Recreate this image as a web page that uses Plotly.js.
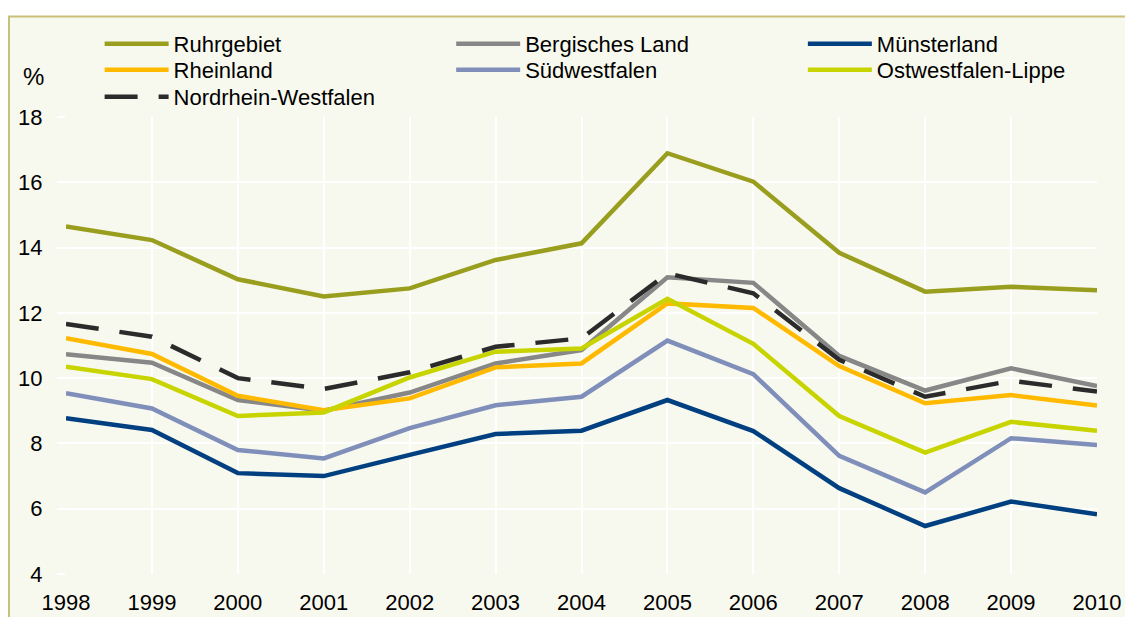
<!DOCTYPE html>
<html>
<head>
<meta charset="utf-8">
<script src="https://cdn.plot.ly/plotly-3.0.1.min.js"></script>
<style>
  html, body { margin: 0; padding: 0; background: #ffffff; }
  #chart { width: 1125px; height: 617px; }
</style>
</head>
<body>
<div id="chart"></div>
<script>
const years = [1998, 1999, 2000, 2001, 2002, 2003, 2004, 2005, 2006, 2007, 2008, 2009, 2010];

const ruhrgebiet      = [14.65, 14.23, 13.03, 12.50, 12.75, 13.62, 14.13, 16.89, 16.02, 13.84, 12.65, 12.80, 12.69];
const bergischesLand  = [10.73, 10.47, 9.33, 9.00, 9.56, 10.45, 10.86, 13.09, 12.92, 10.68, 9.62, 10.30, 9.76];
const muensterland    = [8.77, 8.41, 7.09, 7.00, 7.65, 8.29, 8.39, 9.33, 8.38, 6.63, 5.47, 6.22, 5.83];
const rheinland       = [11.22, 10.74, 9.46, 9.02, 9.38, 10.33, 10.45, 12.29, 12.15, 10.37, 9.23, 9.48, 9.16];
const suedwestfalen   = [9.54, 9.07, 7.80, 7.54, 8.47, 9.17, 9.43, 11.15, 10.12, 7.62, 6.50, 8.16, 7.95];
const ostwestfalen    = [10.35, 9.97, 8.84, 8.95, 10.02, 10.81, 10.91, 12.43, 11.05, 8.84, 7.72, 8.66, 8.39];
const nrw             = [11.66, 11.27, 10.00, 9.67, 10.18, 10.96, 11.22, 13.21, 12.60, 10.56, 9.43, 9.92, 9.59];

const yTicks = [4, 6, 8, 10, 12, 14, 16, 18];

const FONT = "Liberation Sans, Arial, sans-serif";

function line(name, y, color, legendId, dash) {
  return {
    type: 'scatter', mode: 'lines', name: name, x: years, y: y,
    line: { color: color, width: 4.5, dash: dash || 'solid' },
    legend: legendId, hoverinfo: 'x+y+name'
  };
}

const traces = [
  line('Ruhrgebiet', ruhrgebiet, '#9a9e1f', 'legend'),
  line('Bergisches Land', bergischesLand, '#878787', 'legend2'),
  line('Münsterland', muensterland, '#004080', 'legend3'),
  line('Rheinland', rheinland, '#ffba00', 'legend4'),
  line('Südwestfalen', suedwestfalen, '#7f8fba', 'legend5'),
  line('Ostwestfalen-Lippe', ostwestfalen, '#c8d400', 'legend6'),
  line('Nordrhein-Westfalen', nrw, '#2b2b2b', 'legend7', '33px,21px')
];

function leg(x, y) {
  return {
    orientation: 'v', xanchor: 'left', yanchor: 'middle', x: x, y: y,
    bgcolor: 'rgba(0,0,0,0)', borderwidth: 0,
    font: { family: FONT, size: 22, color: '#000000' },
    itemwidth: 64, tracegroupgap: 0, itemclick: false, itemdoubleclick: false
  };
}

const colX = [0.0326, 0.3736, 0.7147];
const rowY = [1.1597, 1.1028, 1.0438];

const layout = {
  width: 1125, height: 617,
  margin: { l: 66, r: 28, t: 117, b: 43 },
  paper_bgcolor: '#ffffff',
  plot_bgcolor: '#edebdc',
  font: { family: FONT, size: 22, color: '#000000' },
  showlegend: true,
  legend:  leg(colX[0], rowY[0]),
  legend2: leg(colX[1], rowY[0]),
  legend3: leg(colX[2], rowY[0]),
  legend4: leg(colX[0], rowY[1]),
  legend5: leg(colX[1], rowY[1]),
  legend6: leg(colX[2], rowY[1]),
  legend7: leg(colX[0], rowY[2]),
  xaxis: {
    range: [1998, 2010], tickvals: years, ticktext: years.map(String),
    showgrid: true, gridcolor: '#ffffff', gridwidth: 2,
    zeroline: false, showline: false, ticks: '',
    tickfont: { family: FONT, size: 22, color: '#000000' },
    ticklabelstandoff: 13, fixedrange: true
  },
  yaxis: {
    range: [4, 18], tickvals: yTicks, ticktext: yTicks.map(String),
    showgrid: true, gridcolor: '#ffffff', gridwidth: 2,
    zeroline: false, showline: false,
    ticks: 'outside', ticklen: 8, tickwidth: 2, tickcolor: '#ffffff',
    tickfont: { family: FONT, size: 22, color: '#000000' },
    ticklabelstandoff: 10, fixedrange: true
  },
  shapes: [
    {
      type: 'rect', xref: 'paper', yref: 'paper', layer: 'below',
      x0: -0.0553, x1: 1.04, y0: -0.12, y1: 1.2198,
      fillcolor: '#f8f9ee', line: { color: '#c9c07a', width: 2 }
    }
  ],
  annotations: [
    {
      text: '%', xref: 'paper', yref: 'paper', x: -0.0315, y: 1.0897,
      xanchor: 'center', yanchor: 'middle', showarrow: false,
      font: { family: FONT, size: 24, color: '#000000' }
    }
  ]
};

Plotly.newPlot('chart', traces, layout, { displayModeBar: false, staticPlot: true });
</script>
</body>
</html>
